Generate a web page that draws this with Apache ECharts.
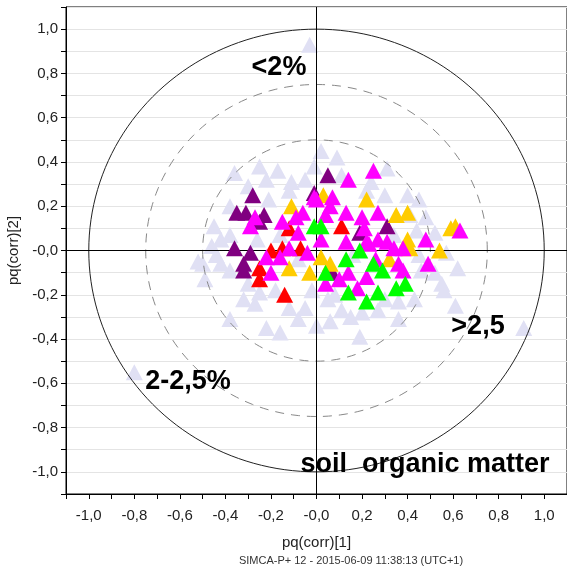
<!DOCTYPE html>
<html><head><meta charset="utf-8">
<script src="https://cdn.jsdelivr.net/npm/echarts/dist/echarts.min.js"></script>
<style>html,body{margin:0;padding:0;background:#fff}#c{width:567px;height:570px}</style>
</head><body><div id="c"></div>
<script>
// ---- data (pq(corr)[1], pq(corr)[2]) ----
const lavenderPts = [
[-0.03,0.93],[-0.80,-0.55],[0.91,-0.35],[0.61,-0.25],[-0.38,-0.31],[-0.22,-0.35],[-0.16,-0.37],
[-0.50,-0.06],[-0.49,-0.13],[-0.46,0.02],[-0.42,0.05],[-0.38,0.07],[-0.42,-0.06],[-0.38,-0.09],
[-0.52,-0.05],[-0.12,-0.26],[-0.18,-0.18],[-0.25,-0.19],[-0.36,0.35],[-0.22,0.32],[-0.30,0.29],
[-0.11,0.31],[0.02,0.45],[0.09,0.42],[0.31,0.37],[-0.05,0.32],[0.11,0.34],[-0.01,0.38],
[0.30,0.25],[0.22,0.27],[0.52,0.08],[0.57,-0.01],[0.62,-0.08],[0.55,-0.15],[0.56,-0.18],
[0.44,0.09],[0.46,-0.09],[0.52,-0.10],[0.06,-0.32],[0.11,-0.27],[0.20,-0.28],[0.36,-0.23],
[-0.05,-0.26],[0.19,-0.39],[0.41,0.16],[0.45,0.23],[0.00,-0.34],[0.27,-0.27],[0.43,-0.22],
[0.36,-0.31],[-0.08,-0.31],[-0.32,-0.22],[-0.12,0.27],[-0.21,0.23],[-0.08,-0.04],[-0.16,0.07],
[0.16,-0.02],[0.34,0.07],[0.45,-0.02],[0.05,-0.22],[-0.26,0.05],[-0.30,-0.15],[0.15,-0.30],
[-0.45,0.11],[-0.38,0.20],[-0.27,-0.24],[0.08,-0.20],[0.30,-0.22],[-0.02,-0.18],[0.48,0.15],
[-0.44,-0.02],[0.24,0.31],[0.40,0.25],[-0.25,0.38],[-0.17,0.36]
];
const darkPurplePts = [
[-0.28,0.25],[-0.35,0.17],[-0.31,0.17],[-0.23,0.16],[-0.25,0.13],[-0.36,0.01],[-0.32,-0.06],
[-0.29,-0.01],[-0.32,-0.09],[0.05,0.34],[-0.01,0.26],[0.31,0.11],[0.07,-0.10],[0.19,0.08]
];
const redPts = [
[-0.12,0.10],[-0.25,-0.08],[-0.25,-0.13],[-0.20,0.00],[-0.15,0.01],[-0.14,-0.20],[0.11,0.11],[-0.07,0.01]
];
const goldPts = [
[-0.11,0.20],[0.03,0.25],[0.22,0.23],[0.35,0.16],[0.40,0.17],[0.59,0.10],[0.61,0.11],[0.54,0.00],
[0.41,0.01],[0.32,-0.04],[-0.03,-0.10],[0.02,-0.03],[0.06,-0.06],[-0.12,-0.08],[0.40,0.05]
];
const magentaPts = [
[-0.27,0.15],[-0.29,0.11],[-0.15,0.13],[-0.09,0.15],[0.25,0.36],[0.14,0.32],[-0.01,0.24],[0.07,0.24],
[0.06,0.20],[0.27,0.17],[0.13,0.17],[0.20,0.15],[0.21,0.10],[-0.06,0.17],[0.04,0.16],[0.13,0.04],
[0.22,0.04],[0.27,0.05],[0.34,0.01],[0.38,0.01],[0.48,0.05],[0.63,0.09],[0.49,-0.06],[0.36,-0.06],
[0.14,-0.10],[0.22,-0.12],[0.10,-0.13],[0.04,-0.15],[0.18,-0.17],[0.38,-0.09],[0.02,0.05],[0.23,0.03],
[0.31,0.04],[0.26,-0.04],[-0.04,-0.01],[-0.22,-0.03],[-0.20,-0.10],[-0.12,0.01],[-0.16,-0.03],
[0.00,0.23],[-0.08,0.08]
];
const greenPts = [
[0.02,0.11],[-0.01,0.11],[0.19,0.00],[0.13,-0.04],[0.04,-0.10],[0.25,-0.06],[0.29,-0.09],
[0.14,-0.19],[0.22,-0.23],[0.27,-0.19],[0.35,-0.17],[0.39,-0.15]
];
const circleRadii = [1, 0.75, 0.5];
const xAxisName = 'pq(corr)[1]';
const yAxisName = 'pq(corr)[2]';
const annotations = ['<2%', '2-2,5%', '>2,5', 'soil  organic matter'];
const footer = 'SIMCA-P+ 12 - 2015-06-09 11:38:13 (UTC+1)';

function circle(r){
  const pts=[];
  for(let i=0;i<=360;i+=2){const a=i*Math.PI/180;pts.push([r*Math.cos(a), r*Math.sin(a)]);}
  return pts;
}
function fmt(v){
  const k=Math.round(v*10);
  if(k%2!==0||Math.abs(k)>10) return '';
  if(k===0) return '-0,0';
  return (k/10).toFixed(1).replace('.',',');
}
const chart = echarts.init(document.getElementById('c'), null, {renderer:'canvas'});
const symSize=[17,16];
function scat(data,color,z){
  return {type:'scatter',data:data,symbol:'triangle',symbolSize:symSize,z:z,
    itemStyle:{color:color,opacity:1},emphasis:{disabled:true},silent:true};
}
const labelStyle={color:'#222',fontSize:15,fontFamily:'Liberation Sans, Arial, sans-serif'};
const option={
  animation:false,
  backgroundColor:'#fff',
  grid:{left:66,right:0,top:7,bottom:76,show:true,borderColor:'#000',borderWidth:1,
    containLabel:false,outerBoundsMode:'none'},
  xAxis:{type:'value',min:-1.1,max:1.1,interval:0.1,
    name:xAxisName,nameLocation:'middle',nameGap:41,
    nameTextStyle:{color:'#222',fontSize:15,fontFamily:'Liberation Sans, Arial, sans-serif'},
    axisLine:{onZero:false,lineStyle:{color:'#000'}},
    axisTick:{length:5,lineStyle:{color:'#000'}},
    axisLabel:Object.assign({formatter:fmt,margin:14,showMinLabel:true,showMaxLabel:true},labelStyle),
    splitLine:{show:false}},
  yAxis:{type:'value',min:-1.1,max:1.1,interval:0.1,
    name:yAxisName,nameLocation:'middle',nameGap:42,nameRotate:90,
    nameTextStyle:{color:'#222',fontSize:15,fontFamily:'Liberation Sans, Arial, sans-serif'},
    axisLine:{onZero:false,lineStyle:{color:'#000'}},
    axisTick:{length:5,lineStyle:{color:'#000'}},
    axisLabel:Object.assign({formatter:fmt,margin:8},labelStyle),
    splitLine:{show:true,lineStyle:{color:'#e4e4e4',width:1}}},
  series:[
    scat(lavenderPts,'#e0e0f4',3),
    {type:'line',data:circle(circleRadii[0]),showSymbol:false,symbol:'none',silent:true,z:4,
      lineStyle:{color:'#222',width:1,type:'solid'},
      markLine:{silent:true,symbol:'none',label:{show:false},
        lineStyle:{color:'#000',width:1,type:'solid'},
        data:[{xAxis:0},{yAxis:0}]}},
    {type:'line',data:circle(circleRadii[1]),showSymbol:false,symbol:'none',silent:true,z:4,
      lineStyle:{color:'#888',width:1,type:[9,7]}},
    {type:'line',data:circle(circleRadii[2]),showSymbol:false,symbol:'none',silent:true,z:4,
      lineStyle:{color:'#888',width:1,type:[9,7]}},
    scat(darkPurplePts,'#800080',5),
    scat(redPts,'#ff0000',6),
    scat(goldPts,'#ffcc00',7),
    scat(magentaPts,'#ff00ff',8),
    scat(greenPts,'#00ff00',9)
  ],
  graphic:[
    {type:'text',x:279,y:68,z:100,style:{text:annotations[0],font:'bold 27px "Liberation Sans", Arial, sans-serif',fill:'#000',align:'center',verticalAlign:'middle'}},
    {type:'text',x:188,y:382,z:100,style:{text:annotations[1],font:'bold 27px "Liberation Sans", Arial, sans-serif',fill:'#000',align:'center',verticalAlign:'middle'}},
    {type:'text',x:478,y:327,z:100,style:{text:annotations[2],font:'bold 27px "Liberation Sans", Arial, sans-serif',fill:'#000',align:'center',verticalAlign:'middle'}},
    {type:'text',x:425,y:465,z:100,style:{text:annotations[3],font:'bold 27px "Liberation Sans", Arial, sans-serif',fill:'#000',align:'center',verticalAlign:'middle'}},
    {type:'text',x:351,y:561,z:100,style:{text:footer,font:'11px "Liberation Sans", Arial, sans-serif',fill:'#333',align:'center',verticalAlign:'middle'}}
  ]
};
chart.setOption(option);
</script></body></html>
